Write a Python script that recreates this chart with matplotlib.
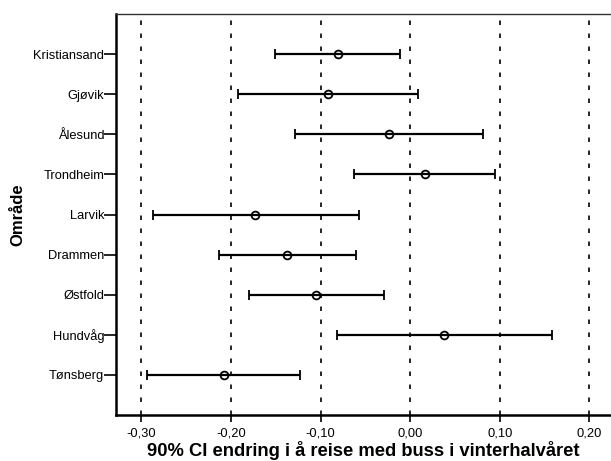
#!/usr/bin/env python3
import numpy as np
import matplotlib
matplotlib.use('Agg')
import matplotlib.pyplot as plt
from matplotlib.ticker import FuncFormatter

plt.rcParams['font.family'] = ['Liberation Sans', 'DejaVu Sans']

# områder, ovenfra og ned
omrader = ['Kristiansand', 'Gjøvik', 'Ålesund', 'Trondheim', 'Larvik',
           'Drammen', 'Østfold', 'Hundvåg', 'Tønsberg']
# punktestimat og 90% KI (nedre, øvre)
estimat = [-0.081, -0.092, -0.024, 0.016, -0.173, -0.137, -0.105, 0.038, -0.208]
nedre = [-0.151, -0.192, -0.128, -0.063, -0.287, -0.213, -0.180, -0.082, -0.293]
ovre = [-0.011, 0.009, 0.081, 0.095, -0.057, -0.060, -0.029, 0.158, -0.123]

x_ticks = [-0.30, -0.20, -0.10, 0.00, 0.10, 0.20]

fig = plt.figure(figsize=(6.11, 4.61), dpi=100)
ax = fig.add_axes([0.19, 0.0998, 0.81, 0.8698])

pos = np.arange(1, len(omrader) + 1)
est = np.array(estimat)
lo = est - np.array(nedre)
hi = np.array(ovre) - est

# stiplede referanselinjer
for xt in x_ticks:
    ax.axvline(xt, color='black', linewidth=1.2, dashes=(2.7, 5.1), zorder=1)

ax.errorbar(est, pos, xerr=[lo, hi], fmt='o', color='black',
            markerfacecolor='none', markeredgecolor='black', markersize=5.6,
            markeredgewidth=1.3, elinewidth=1.6, capsize=3.8, capthick=1.6,
            zorder=3)

ax.set_xlim(-0.328, 0.224)
ax.set_ylim(10, 0)
ax.set_yticks(pos)
ax.set_yticklabels(omrader)
ax.set_xticks(x_ticks)
ax.xaxis.set_major_formatter(FuncFormatter(lambda v, p: f'{v:.2f}'.replace('.', ',')))

ax.spines['right'].set_visible(False)
ax.spines['top'].set_linewidth(1.0)
ax.spines['top'].set_color('#333333')
ax.spines['left'].set_linewidth(1.8)
ax.spines['bottom'].set_linewidth(1.8)

ax.tick_params(axis='y', direction='out', length=8.5, width=1.2, labelsize=9.3, pad=0)
ax.tick_params(axis='x', direction='out', length=5, width=1.2, labelsize=9.3, pad=4)

ax.set_xlabel('90% CI endring i å reise med buss i vinterhalvåret',
              fontsize=13.2, fontweight='bold', labelpad=1)
ax.set_ylabel('Område', fontsize=12, fontweight='bold', labelpad=6)

plt.savefig('out.png', dpi=100)
